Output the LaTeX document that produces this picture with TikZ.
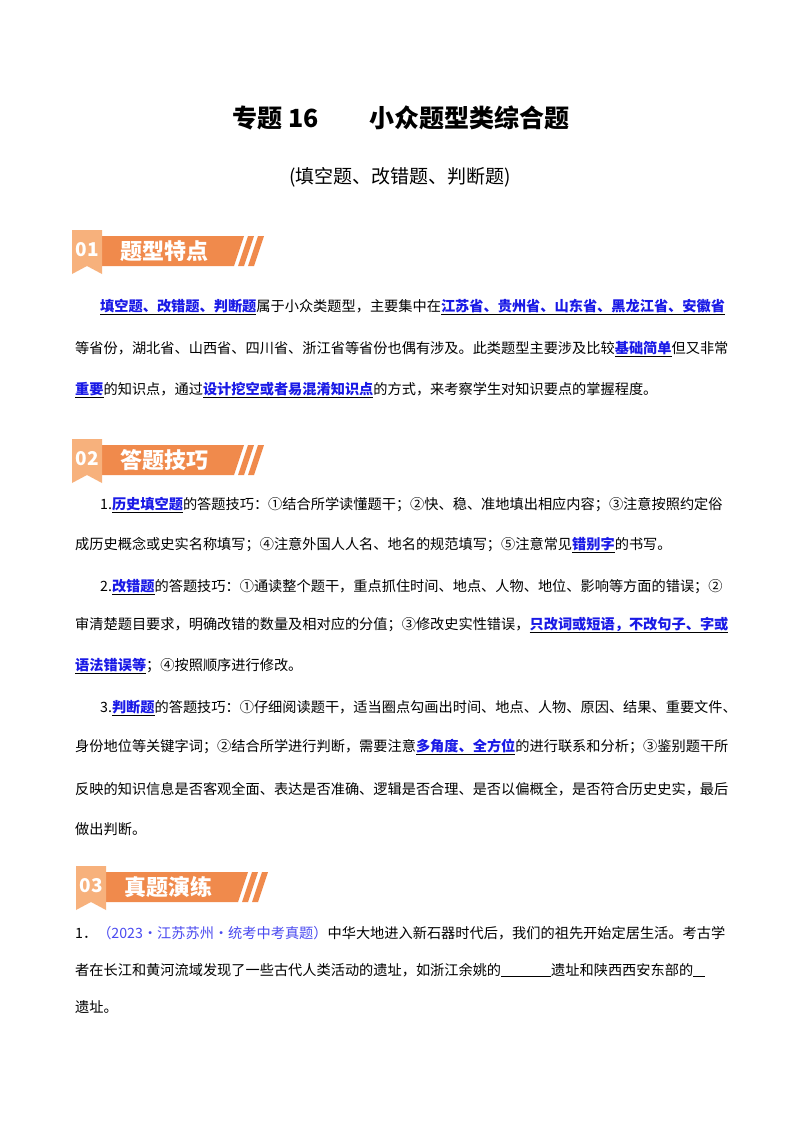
\documentclass[tikz,border=0pt]{standalone}
\usepackage{fontspec}
\setmainfont{Noto Sans CJK SC}
\usepackage{xcolor}
\usetikzlibrary{positioning}
\definecolor{flagor}{HTML}{F7B17C}
\definecolor{baror}{HTML}{F08A4C}
\definecolor{linkblue}{HTML}{1A1AE6}
\definecolor{qblue}{HTML}{4A4AF0}
\newcommand\hl[1]{\underline{\textbf{\color{linkblue}#1}}}
\newcommand\blank[1]{\underline{\hspace{#1}}}

\begin{document}
\begin{tikzpicture}[x=1pt, y=-1pt,
        body/.style={anchor=west, inner sep=0pt, font=\fontsize{14.2}{16}\selectfont},
        bartext/.style={anchor=west, inner sep=0pt, text=white, font=\fontsize{22}{24}\selectfont\bfseries},
        numtext/.style={anchor=center, inner sep=0pt, text=white, font=\fontsize{19}{22}\selectfont\bfseries}
    ]
        \useasboundingbox[fill=white] (0,0) rectangle (800,1132);

        % Title
        \node[inner sep=0pt, font=\fontsize{25}{28}\selectfont\bfseries] (title) at (401,118) {专题 16\hspace{2em}小众题型类综合题};
        \node[inner sep=0pt, font=\fontsize{19}{22}\selectfont] (subtitle) at (400,177) {(填空题、改错题、判断题)};

        % Section banners
        \foreach \bx/\by/\num/\txt [count=\i] in {72/230/01/题型特点, 72/439/02/答题技巧, 76/866/03/真题演练} {
            \fill[baror] (\bx+30,\by+6) -- (\bx+172,\by+6) -- (\bx+162,\by+36) -- (\bx+30,\by+36) -- cycle;
            \fill[baror] (\bx+176,\by+6) -- (\bx+182,\by+6) -- (\bx+172,\by+36) -- (\bx+166,\by+36) -- cycle;
            \fill[baror] (\bx+186,\by+6) -- (\bx+192,\by+6) -- (\bx+182,\by+36) -- (\bx+176,\by+36) -- cycle;
            \fill[flagor] (\bx,\by) -- (\bx+30,\by) -- (\bx+30,\by+44) -- (\bx+15,\by+36) -- (\bx,\by+44) -- cycle;
            \node[numtext] (num\i) at (\bx+15,\by+20) {\num};
            \node[bartext] (head\i) at (\bx+48,\by+21) {\txt};
        }

        % Section 1
        \node[body] (pa1) at (100,307) {\hl{填空题、改错题、判断题}属于小众类题型，主要集中在\hl{江苏省、贵州省、山东省、黑龙江省、安徽省}};
        \node[body] (pa2) at (75,349) {等省份，湖北省、山西省、四川省、浙江省等省份也偶有涉及。此类题型主要涉及比较\hl{基础简单}但又非常};
        \node[body] (pa3) at (75,390) {\hl{重要}的知识点，通过\hl{设计挖空或者易混淆知识点}的方式，来考察学生对知识要点的掌握程度。};

        % Section 2
        \node[body] (pb1) at (100,505) {1.\hl{历史填空题}的答题技巧：①结合所学读懂题干；②快、稳、准地填出相应内容；③注意按照约定俗};
        \node[body] (pb2) at (75,545) {成历史概念或史实名称填写；④注意外国人人名、地名的规范填写；⑤注意常见\hl{错别字}的书写。};
        \node[body] (pb3) at (100,587) {2.\hl{改错题}的答题技巧：①通读整个题干，重点抓住时间、地点、人物、地位、影响等方面的错误；②};
        \node[body] (pb4) at (75,625) {审清楚题目要求，明确改错的数量及相对应的分值；③修改史实性错误，\hl{只改词或短语，不改句子、字或}};
        \node[body] (pb5) at (75,666) {\hl{语法错误等}；④按照顺序进行修改。};
        \node[body] (pb6) at (100,708) {3.\hl{判断题}的答题技巧：①仔细阅读题干，适当圈点勾画出时间、地点、人物、原因、结果、重要文件、};
        \node[body] (pb7) at (75,747) {身份地位等关键字词；②结合所学进行判断，需要注意\hl{多角度、全方位}的进行联系和分析；③鉴别题干所};
        \node[body] (pb8) at (75,789) {反映的知识信息是否客观全面、表达是否准确、逻辑是否合理、是否以偏概全，是否符合历史史实，最后};
        \node[body] (pb9) at (75,829) {做出判断。};

        % Section 3
        \node[body] (pc1) at (75,933) {1．{\color{qblue}（2023•江苏苏州•统考中考真题）}中华大地进入新石器时代后，我们的祖先开始定居生活。考古学};
        \node[body] (pc2) at (75,970) {者在长江和黄河流域发现了一些古代人类活动的遗址，如浙江余姚的\blank{50pt}遗址和陕西西安东部的\blank{12pt}};
        \node[body] (pc3) at (75,1007) {遗址。};
    \end{tikzpicture}
\end{document}
